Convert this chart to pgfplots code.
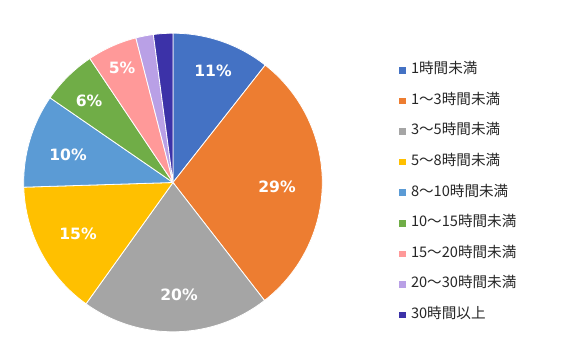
\documentclass[border=0pt]{standalone}
\usepackage{pgfplots}
\pgfplotsset{compat=1.18}
\usepackage{fontspec}
\newfontfamily\jpfont{Noto Sans CJK JP}
\newfontfamily\labfont{DejaVu Sans}
\definecolor{c1}{HTML}{4472C4}
\definecolor{c2}{HTML}{ED7D31}
\definecolor{c3}{HTML}{A5A5A5}
\definecolor{c4}{HTML}{FFC000}
\definecolor{c5}{HTML}{5B9BD5}
\definecolor{c6}{HTML}{70AD47}
\definecolor{c7}{HTML}{FF9999}
\definecolor{c8}{HTML}{B9A0E6}
\definecolor{c9}{HTML}{3C32A8}
\definecolor{legtext}{HTML}{262626}
% values (percent): 10.6, 28.9, 20.4, 14.6, 10.1, 6.0, 5.4, 1.9, 2.1
% cumulative angles (deg, clockwise from top): value*3.6
\begin{document}
\begin{tikzpicture}
\begin{axis}[
  scale only axis, width=565bp, height=359bp,
  xmin=0, xmax=565, ymin=0, ymax=359, y dir=reverse,
  hide axis, clip=false,
  legend style={at={(axis cs:398,63.5)}, anchor=north west, draw=none, fill=none,
    font=\jpfont\fontsize{14.6bp}{14.6bp}\selectfont, text=legtext,
    row sep=17.6bp, column sep=4.5bp, inner sep=0pt,
    nodes={inner sep=0pt, text height=10bp, text depth=3bp}},
  legend cell align=left,
  legend image code/.code={\fill (0bp,-3.8bp) rectangle (7.5bp,3.8bp);},
  every axis plot/.append style={draw=white, line width=0.8bp, samples=60},
]
\addplot[fill=c1, domain=0:38.16] ({173+149.3*sin(x)},{182.5-149.3*cos(x)}) -- (173,182.5) -- cycle;
\addlegendentry{1時間未満}
\addplot[fill=c2, domain=38.16:142.2] ({173+149.3*sin(x)},{182.5-149.3*cos(x)}) -- (173,182.5) -- cycle;
\addlegendentry{1〜3時間未満}
\addplot[fill=c3, domain=142.2:215.64] ({173+149.3*sin(x)},{182.5-149.3*cos(x)}) -- (173,182.5) -- cycle;
\addlegendentry{3〜5時間未満}
\addplot[fill=c4, domain=215.64:268.2] ({173+149.3*sin(x)},{182.5-149.3*cos(x)}) -- (173,182.5) -- cycle;
\addlegendentry{5〜8時間未満}
\addplot[fill=c5, domain=268.2:304.56] ({173+149.3*sin(x)},{182.5-149.3*cos(x)}) -- (173,182.5) -- cycle;
\addlegendentry{8〜10時間未満}
\addplot[fill=c6, domain=304.56:326.16] ({173+149.3*sin(x)},{182.5-149.3*cos(x)}) -- (173,182.5) -- cycle;
\addlegendentry{10〜15時間未満}
\addplot[fill=c7, domain=326.16:345.6] ({173+149.3*sin(x)},{182.5-149.3*cos(x)}) -- (173,182.5) -- cycle;
\addlegendentry{15〜20時間未満}
\addplot[fill=c8, domain=345.6:352.44] ({173+149.3*sin(x)},{182.5-149.3*cos(x)}) -- (173,182.5) -- cycle;
\addlegendentry{20〜30時間未満}
\addplot[fill=c9, domain=352.44:360] ({173+149.3*sin(x)},{182.5-149.3*cos(x)}) -- (173,182.5) -- cycle;
\addlegendentry{30時間以上}
\begin{scope}[every node/.style={text=white, font=\labfont\bfseries\fontsize{15.6bp}{15.6bp}\selectfont}]
\node at (axis cs:213,71) {11\%};
\node at (axis cs:277,187) {29\%};
\node at (axis cs:179,295) {20\%};
\node at (axis cs:78,234) {15\%};
\node at (axis cs:68,155) {10\%};
\node at (axis cs:89,101) {6\%};
\node at (axis cs:122,68) {5\%};
\end{scope}
\path (axis cs:0,0) rectangle (axis cs:565,359);
\end{axis}
\end{tikzpicture}
\end{document}
